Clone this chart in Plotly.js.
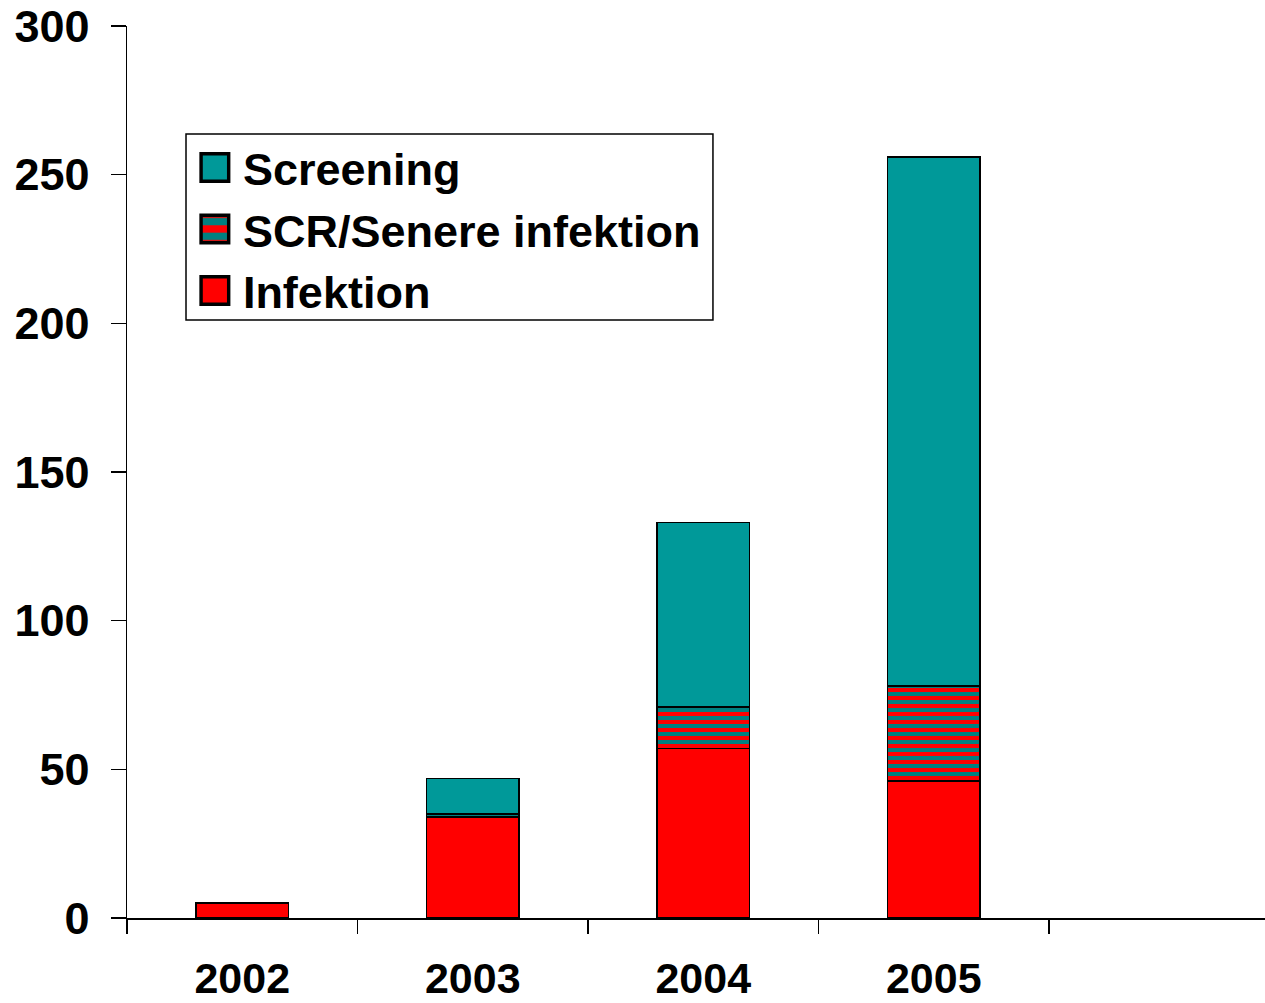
<!DOCTYPE html>
<html>
<head>
<meta charset="utf-8">
<script src="https://cdn.plot.ly/plotly-3.0.1.min.js"></script>
<style>html,body{margin:0;padding:0;background:#fff;}#chart{width:1265px;height:1003px;}</style>
</head>
<body>
<div id="chart"></div>
<script>
const years = ["2002", "2003", "2004", "2005"];
const categoryOrder = ["2002", "2003", "2004", "2005", " "];
const infektion = [5, 34, 57, 46];
const scrSenere = [0, 1, 14, 32];
const screening = [0, 12, 62, 178];
const yTicks = [0, 50, 100, 150, 200, 250, 300];

const font = {family: "Arial, 'Liberation Sans', sans-serif", size: 45, color: "#000", weight: 700};
const xFont = {family: "Arial, 'Liberation Sans', sans-serif", size: 43, color: "#000", weight: 700};
const line = {color: "#000", width: 1.5};

const traces = [
  {type: "bar", name: "Infektion", x: years, y: infektion, width: 0.4,
   marker: {color: "#ff0000", line: line}},
  {type: "bar", name: "SCR/Senere infektion", x: years, y: scrSenere, width: 0.4,
   marker: {color: "#ff0000", line: line,
     pattern: {shape: "-", bgcolor: "#ff0000", fgcolor: "#008080", size: 8, solidity: 0.5}}},
  {type: "bar", name: "Screening", x: years, y: screening, width: 0.4,
   marker: {color: "#009999", line: line}}
];

const layout = {
  width: 1265, height: 1003,
  margin: {l: 127, r: 0, t: 26, b: 85},
  paper_bgcolor: "#fff", plot_bgcolor: "#fff",
  barmode: "stack",
  showlegend: true,
  font: font,
  legend: {
    x: 0.0535, y: 0.8815, xanchor: "left", yanchor: "top",
    bgcolor: "rgba(0,0,0,0)", borderwidth: 0,
    traceorder: "reversed", font: font, itemwidth: 45
  },
  shapes: [
    {type: "rect", xref: "paper", yref: "paper", layer: "below",
     x0: 0.05185, x1: 0.5149, y0: 0.6704, y1: 0.8789,
     fillcolor: "#fff", line: {color: "#000", width: 1.5}}
  ],
  xaxis: {
    type: "category", categoryorder: "array", categoryarray: categoryOrder,
    range: [-0.5, 4.437], tickson: "boundaries",
    ticks: "outside", ticklen: 14, tickwidth: 1.5, tickcolor: "#000",
    showline: true, linecolor: "#000", linewidth: 1.5,
    showgrid: false, zeroline: false, tickfont: xFont, ticklabelstandoff: 22,
    fixedrange: true
  },
  yaxis: {
    range: [0, 300], tickvals: yTicks, ticktext: yTicks.map(String),
    ticks: "outside", ticklen: 15, tickwidth: 1.5, tickcolor: "#000",
    showline: true, linecolor: "#000", linewidth: 1.5,
    showgrid: false, zeroline: false, tickfont: font, ticklabelstandoff: 12,
    fixedrange: true
  }
};

const gd = document.getElementById("chart");
Plotly.newPlot(gd, traces, layout, {displayModeBar: false, staticPlot: true}).then(function () {
  document.querySelectorAll(".legendpoints path").forEach(function (p) {
    p.setAttribute("transform", "translate(27,0) scale(2.3)");
  });
});
</script>
</body>
</html>
